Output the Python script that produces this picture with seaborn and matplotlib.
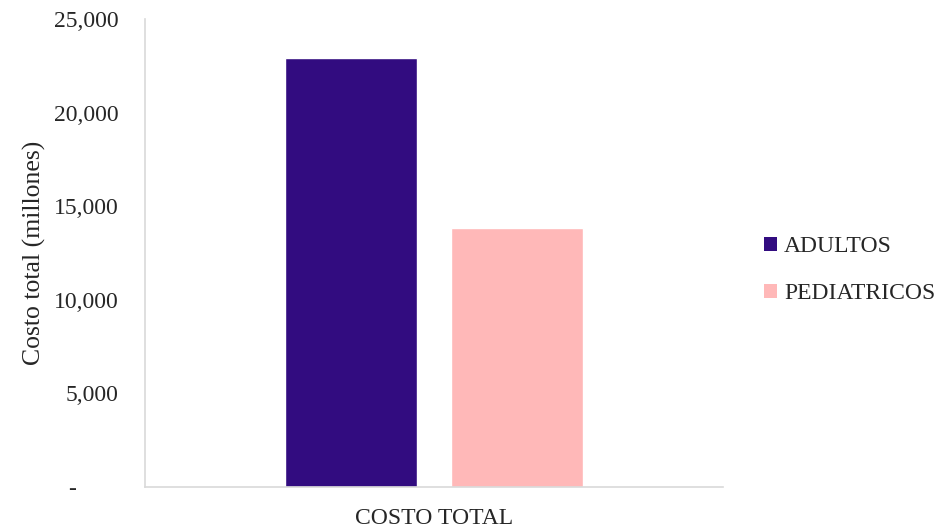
import matplotlib
matplotlib.use("Agg")
import matplotlib.pyplot as plt
import matplotlib.transforms as mtransforms
import seaborn as sns
import pandas as pd
from matplotlib.patches import Patch

categories = ["COSTO TOTAL"]
groups = ["ADULTOS", "PEDIATRICOS"]
values = [22900, 13840]
colors = ["#320C80", "#FFB8B8"]
yticks = [0, 5000, 10000, 15000, 20000, 25000]
ytick_labels = ["-", "5,000", "10,000", "15,000", "20,000", "25,000"]

df = pd.DataFrame({"cat": categories * len(groups), "grupo": groups, "valor": values})

sns.set_theme(style="white")
plt.rcParams["font.family"] = ["Liberation Serif", "DejaVu Serif"]

fig = plt.figure(figsize=(9.41, 5.29), dpi=100)
ax = fig.add_axes([145 / 941, 1 - 487 / 529, (723 - 145) / 941, (487 - 19) / 529])

sns.barplot(data=df, x="cat", y="valor", hue="grupo", palette=colors,
            width=1.142, gap=0.2, ax=ax, legend=False, saturation=1)
ax.set_xlim(-1, 1)
ax.set_ylim(0, 25000)
ax.set_yticks(yticks)
ax.set_yticklabels(ytick_labels)
ax.set_xlabel("")
ax.set_ylabel("Costo total (millones)", fontsize=18.5, labelpad=6)
ax.tick_params(axis="y", labelsize=17, length=0, pad=19)
ax.tick_params(axis="x", labelsize=17, length=0, pad=15)
for s in ["top", "right"]:
    ax.spines[s].set_visible(False)
for s in ["left", "bottom"]:
    ax.spines[s].set_color("#d9d9d9")
    ax.spines[s].set_linewidth(1.2)
ax.grid(False)

lbl0 = ax.get_yticklabels()[0]
lbl0.set_transform(lbl0.get_transform() + mtransforms.ScaledTranslation(-0.43, 0.0, fig.dpi_scale_trans))

handles = [Patch(facecolor=c, edgecolor="none") for c in colors]
fig.legend(handles, groups, loc="center left", bbox_to_anchor=(764 / 941, 1 - 270 / 529),
           frameon=False, fontsize=17, handlelength=0.55, handleheight=0.55,
           handletextpad=0.3, labelspacing=1.1, borderaxespad=0, borderpad=0)

fig.savefig("out.png", dpi=100)
